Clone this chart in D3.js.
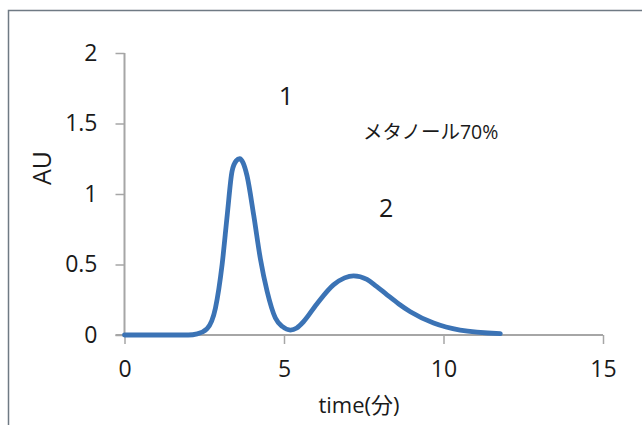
<!DOCTYPE html>
<html>
<head>
<meta charset="utf-8">
<script src="https://cdn.jsdelivr.net/npm/d3@7"></script>
<style>
  body { margin: 0; background: #fff; }
  svg { display: block; }
</style>
</head>
<body>
<svg id="chart"></svg>
<script>
// chromatogram: time (min), absorbance (AU)
const times = [0, 1, 2, 2.28, 2.59, 2.85, 3.06, 3.22, 3.37, 3.5, 3.61, 3.72, 3.84, 4.05, 4.26, 4.47, 4.73,
  4.95, 5.2, 5.4, 5.61, 6.03, 6.55, 6.9, 7.18, 7.6, 7.9, 8.23, 8.6, 8.96, 9.69, 10.52, 11.78];
const values = [0, 0, 0, 0.008, 0.045, 0.19, 0.5, 0.85, 1.16, 1.235, 1.25, 1.22, 1.13, 0.85, 0.54, 0.31, 0.12,
  0.06, 0.035, 0.05, 0.094, 0.22, 0.355, 0.405, 0.42, 0.395, 0.345, 0.285, 0.22, 0.165, 0.085, 0.035, 0.01];
const xTicks = [0, 5, 10, 15];
const yTicks = [0, 0.5, 1, 1.5, 2];
const peakLabels = ["1", "2"];
const note = "メタノール70%";

const width = 642;
const height = 425;
const font = "'Open Sans', 'Noto Sans CJK JP', sans-serif";
const textColor = "#1a1a1a";

const svg = d3.select("#chart").attr("width", width).attr("height", height);

// frame
svg.append("path")
  .attr("d", `M8.5,${height} V10.5 H${width}`)
  .attr("fill", "none")
  .attr("stroke", "#6f7a84")
  .attr("stroke-width", 1.5);

const x = d3.scaleLinear().domain([0, 15]).range([124.5, 603]);
const y = d3.scaleLinear().domain([0, 2]).range([335, 53]);

// x axis
const xAxis = svg.append("g")
  .attr("transform", `translate(0, ${y(0)})`)
  .call(d3.axisBottom(x).tickValues(xTicks).tickSize(9).tickPadding(17).tickFormat(d3.format("d")));
xAxis.select(".domain").attr("stroke", "#a6a6a6").attr("stroke-width", 2)
  .attr("d", `M${x(0) - 9},0H${x(15)}`);
xAxis.selectAll(".tick line").attr("stroke", "#a6a6a6").attr("stroke-width", 1.5);
xAxis.selectAll(".tick text").attr("font-family", font).attr("font-size", 23).attr("fill", textColor);

// y axis
const yAxis = svg.append("g")
  .attr("transform", `translate(${x(0)}, 0)`)
  .call(d3.axisLeft(y).tickValues(yTicks).tickSize(9).tickPadding(18).tickFormat(d => d));
yAxis.select(".domain").attr("stroke", "#a6a6a6").attr("stroke-width", 2)
  .attr("d", `M0,${y(0)}V${y(2)}`);
yAxis.selectAll(".tick line").attr("stroke", "#a6a6a6").attr("stroke-width", 1.5);
yAxis.selectAll(".tick text").attr("font-family", font).attr("font-size", 23).attr("fill", textColor);

// axis titles
svg.append("text")
  .attr("x", 359).attr("y", 413)
  .attr("text-anchor", "middle")
  .attr("font-family", font).attr("font-size", 22).attr("fill", textColor)
  .text("time(分)");

svg.append("text")
  .attr("transform", "translate(51, 168) rotate(-90)")
  .attr("text-anchor", "middle")
  .attr("font-family", font).attr("font-size", 25).attr("fill", textColor)
  .text("AU");

// curve
const data = times.map((t, i) => [t, values[i]]);
const line = d3.line()
  .x(d => x(d[0]))
  .y(d => y(d[1]))
  .curve(d3.curveMonotoneX);

svg.append("path")
  .datum(data)
  .attr("d", line)
  .attr("fill", "none")
  .attr("stroke", "#3b73b5")
  .attr("stroke-width", 4.8)
  .attr("stroke-linecap", "round")
  .attr("stroke-linejoin", "round");

// annotations
const labelPos = [[5.07, 1.63], [8.2, 0.84]];
const labelSize = [26, 25];
svg.selectAll(".peak")
  .data(peakLabels)
  .enter()
  .append("text")
  .attr("class", "peak")
  .attr("x", (d, i) => x(labelPos[i][0]))
  .attr("y", (d, i) => y(labelPos[i][1]))
  .attr("text-anchor", "middle")
  .attr("font-family", font).attr("font-size", (d, i) => labelSize[i]).attr("fill", textColor)
  .text(d => d);

svg.append("text")
  .attr("x", 363).attr("y", 139)
  .attr("font-family", font).attr("font-size", 19.5).attr("fill", textColor)
  .text(note);
</script>
</body>
</html>
